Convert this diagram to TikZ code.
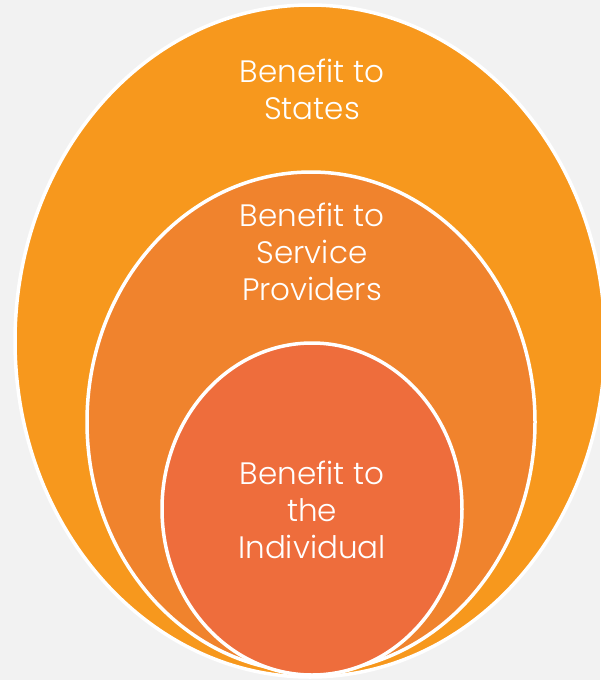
\documentclass[tikz,border=0pt]{standalone}
\usepackage{fontspec}
\setmainfont{Poppins}[UprightFont={* Light}]
\usepackage{tikz}
\usetikzlibrary{shapes}
\definecolor{bggray}{HTML}{F2F2F2}
\definecolor{statesorange}{HTML}{F7981D}
\definecolor{provorange}{HTML}{F0832D}
\definecolor{indivorange}{HTML}{EE6D3C}
\tikzstyle{ring}=[ellipse,draw=white,line width=3.5pt,inner sep=0pt]
\tikzstyle{benefit}=[text=white,align=center,font=\fontsize{31}{37}\selectfont]

\begin{document}
\begin{tikzpicture}[x=1pt,y=-1pt]
    \fill [bggray] (0,0) rectangle (600,680);
    \useasboundingbox (0,0) rectangle (600,680);
    \node [ring,fill=statesorange,minimum width=590pt,minimum height=672pt] (states) at (310,341) {};
    \node [ring,fill=provorange,minimum width=448pt,minimum height=500pt] (providers) at (311,422) {};
    \node [ring,fill=indivorange,minimum width=300pt,minimum height=332pt] (individual) at (312,509) {};
    \node [benefit] (stateslabel) at (312,89) {Benefit to\\States};
    \node [benefit] (provlabel) at (312,252) {Benefit to\\Service\\Providers};
    \node [benefit] (indivlabel) at (312,510) {Benefit to\\the\\Individual};
\end{tikzpicture}
\end{document}
